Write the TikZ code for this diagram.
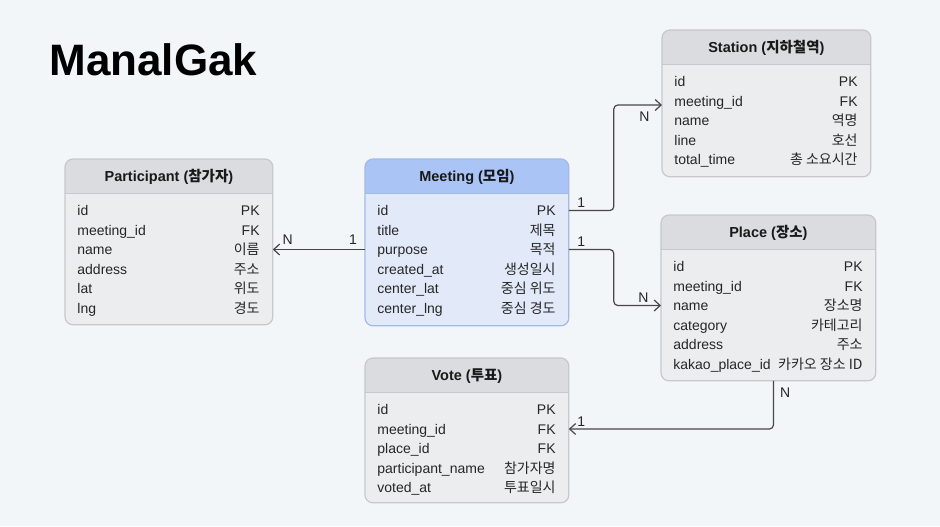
\documentclass[tikz,border=0pt]{standalone}
\usepackage{fontspec}
\setmainfont{Liberation Sans}
\newfontfamily\kr{Noto Sans CJK KR}
\usepackage{tikz}
\usetikzlibrary{arrows.meta}
\definecolor{pagebg}{HTML}{F3F6F9}
\definecolor{boxgray}{HTML}{ECEDEF}
\definecolor{headgray}{HTML}{DBDCDF}
\definecolor{edgegray}{HTML}{C6C8CB}
\definecolor{boxblue}{HTML}{E2EAFA}
\definecolor{headblue}{HTML}{A9C4F5}
\definecolor{edgeblue}{HTML}{A0BAE8}
\definecolor{linkgray}{HTML}{474747}

% one ER table: name, x, y, width, height, colour, title, rows
\newcommand{\erbox}[8]{%
    \node[tablebox, fill=box#6, minimum width=#4*0.5pt, minimum height=#5*0.5pt] (#1) at (#2,#3) {};
    \begin{scope}
        \clip[rounded corners=4pt] (#1.north west) rectangle (#1.south east);
        \fill[head#6] (#1.north west) rectangle ([yshift=-17pt]#1.north east);
        \draw[edge#6, line width=0.4pt] ([yshift=-17pt]#1.north west) -- ([yshift=-17pt]#1.north east);
    \end{scope}
    \draw[edge#6, line width=0.6pt, rounded corners=4pt] (#1.north west) rectangle (#1.south east);
    \node[headtext] (#1-title) at ([yshift=-9pt]#1.north) {#7};
    \foreach \fname/\fkey [count=\i] in {#8} {
        \coordinate (#1-\i) at (#2, {#3+51.5+(\i-1)*19.5});
        \node[fieldtext, anchor=base west] at ({#2+12}, {#3+56.5+(\i-1)*19.5}) {\fname};
        \node[fieldtext, anchor=base east] at ({#2+#4-12}, {#3+56.5+(\i-1)*19.5}) {\fkey};
    }
}

\begin{document}
\begin{tikzpicture}[
    x=0.5pt, y=-0.5pt,
    tablebox/.style={anchor=north west, inner sep=0pt, rounded corners=4pt},
    headtext/.style={font=\bfseries\fontsize{7.25}{9}\selectfont, text=black!90},
    fieldtext/.style={font=\fontsize{7}{9}\selectfont, text=black!85, inner sep=0pt},
    link/.style={draw=linkgray, line width=0.6pt, rounded corners=2pt,
        -{Straight Barb[length=3pt, width=5.5pt]}},
    card/.style={font=\fontsize{7}{8}\selectfont, text=black!85, inner sep=1pt}
]
    \fill[pagebg] (0,0) rectangle (940,526);
    \useasboundingbox (0,0) rectangle (940,526);

    \node[anchor=base west, font=\bfseries\fontsize{22}{26}\selectfont, inner sep=0pt] (title) at (49,75) {ManalGak};

    % --- tables ---
    \erbox{participant}{65}{159}{207}{165}{gray}{Participant ({\kr 참가자})}%
        {id/PK, meeting\_id/FK, name/{\kr 이름}, address/{\kr 주소}, lat/{\kr 위도}, lng/{\kr 경도}}
    \erbox{meeting}{365}{159}{203}{166}{blue}{Meeting ({\kr 모임})}%
        {id/PK, title/{\kr 제목}, purpose/{\kr 목적}, created\_at/{\kr 생성일시}, center\_lat/{\kr 중심 위도}, center\_lng/{\kr 중심 경도}}
    \erbox{station}{662}{30}{208}{146}{gray}{Station ({\kr 지하철역})}%
        {id/PK, meeting\_id/FK, name/{\kr 역명}, line/{\kr 호선}, total\_time/{\kr 총 소요시간}}
    \erbox{place}{661}{215}{214}{165}{gray}{Place ({\kr 장소})}%
        {id/PK, meeting\_id/FK, name/{\kr 장소명}, category/{\kr 카테고리}, address/{\kr 주소}, kakao\_place\_id/{\kr 카카오 장소 ID}}
    \erbox{vote}{365}{358}{203}{144}{gray}{Vote ({\kr 투표})}%
        {id/PK, meeting\_id/FK, place\_id/FK, participant\_name/{\kr 참가자명}, voted\_at/{\kr 투표일시}}

    % --- relations ---
    \draw[link] (meeting.west |- meeting-3)
        -- node[card, above, pos=0.13, yshift=1pt] {1} node[card, above, pos=0.84, yshift=1pt] {N}
        (participant.east |- meeting-3);

    \draw[link] (meeting.east |- meeting-1) node[card, anchor=south west, xshift=3pt] {1}
        -- ++(45,0) |- ([yshift=-2pt]station.west |- station-2) node[card, anchor=north east, xshift=-5pt, yshift=-2pt] {N};

    \draw[link] (meeting.east |- meeting-3) node[card, anchor=south west, xshift=3pt] {1}
        -- ++(45,0) |- (place.west |- place-3) node[card, anchor=south east, xshift=-5pt] {N};

    \draw[link] ([xshift=2.5pt]place.south) node[card, anchor=north west, xshift=2pt, yshift=-2pt] {N}
        |- (vote.east |- vote-2) node[card, anchor=south west, xshift=3pt] {1};
\end{tikzpicture}
\end{document}
